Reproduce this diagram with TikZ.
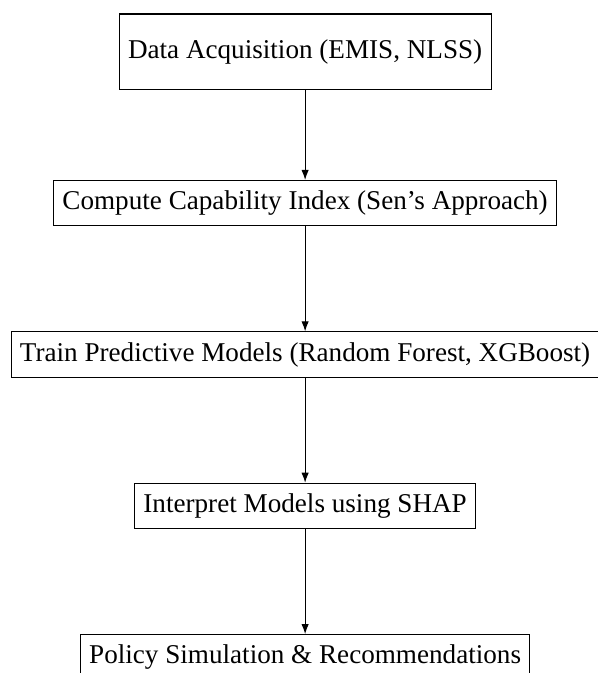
\documentclass[tikz,border=0pt]{standalone}
\usepackage{fontspec}
\setmainfont{Liberation Serif}
\usetikzlibrary{positioning,arrows.meta}
\tikzset{
  stage/.style ={draw,thin,font=\fontsize{10.2pt}{12pt}\selectfont,
                 inner xsep=3.33pt,inner ysep=3.9pt},
  arr/.style   ={-{Latex[length=3.8pt,width=2.8pt]},thin},
}
\begin{document}
\begin{tikzpicture}
 \useasboundingbox (-114.7pt,19.5pt) rectangle (109.8pt,-233.5pt);
 \node[stage,minimum height=1cm] (acq) at (0,0) {Data Acquisition (EMIS, NLSS)};
 \node[stage] (cap) at (0,-2) {Compute Capability Index (Sen's Approach)};
 \node[stage] (train) at (0,-4) {Train Predictive Models (Random Forest, XGBoost)};
 \node[stage] (shap) at (0,-6) {Interpret Models using SHAP};
 \node[stage] (policy) at (0,-8) {Policy Simulation \& Recommendations};
 \draw[arr] (acq) -- (cap);
 \draw[arr] (cap) -- (train);
 \draw[arr] (train) -- (shap);
 \draw[arr] (shap) -- (policy);
\end{tikzpicture}
\end{document}
